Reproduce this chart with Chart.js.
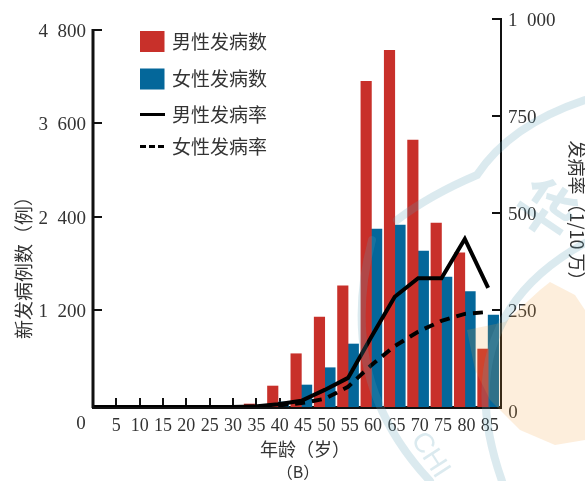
<!DOCTYPE html>
<html>
<head>
<meta charset="utf-8">
<script src="https://cdn.jsdelivr.net/npm/chart.js@4"></script>
<style>
  html, body { margin: 0; padding: 0; background: #fff; }
  canvas { display: block; }
</style>
</head>
<body>
<canvas id="incidenceChart" width="585" height="481"></canvas>
<script>
const ages = [0, 5, 10, 15, 20, 25, 30, 35, 40, 45, 50, 55, 60, 65, 70, 75, 80, 85];
const maleCases = [0, 0, 2, 6, 4, 5, 8, 38, 267, 678, 1146, 1544, 4146, 4541, 3399, 2342, 1964, 738];
const femaleCases = [0, 0, 1, 2, 3, 4, 5, 10, 64, 280, 500, 802, 2266, 2317, 1986, 1655, 1468, 1171];
const maleRate = [0, 0, 0, 0, 0, 0, 0, 1, 7, 16, 44, 75, 181, 284, 332, 332, 433, 307];
const femaleRate = [0, 0, 0, 0, 0, 0, 0, 1, 4, 10, 21, 52, 108, 157, 194, 222, 240, 245];

const ageTicks = [5, 10, 15, 20, 25, 30, 35, 40, 45, 50, 55, 60, 65, 70, 75, 80, 85];
const caseTicks = [1200, 2400, 3600, 4800];
const rateTicks = [250, 500, 750, 1000];

const numFont = '"Liberation Serif"';
const cjkFont = '"Noto Sans CJK SC"';
const textColor = '#333';

function spaced(v) {
  // thousands are set apart with a wide gap in the source figure
  return v >= 1000 ? Math.floor(v / 1000) + '  ' + String(v % 1000).padStart(3, '0') : String(v);
}

function toPoints(values) {
  return values.map((v, i) => ({ x: ages[i], y: v }));
}

function noEdgePadding(s) {
  s.paddingTop = 0;
  s.paddingBottom = 0;
}

function put(ctx, text, x, y, font, rotation) {
  ctx.save();
  ctx.translate(x, y);
  ctx.rotate(rotation || 0);
  ctx.font = font;
  ctx.fillStyle = textColor;
  ctx.textAlign = 'center';
  ctx.textBaseline = 'middle';
  ctx.fillText(text, 0, 0);
  ctx.restore();
}

const annotations = {
  id: 'annotations',
  afterDatasetsDraw(chart) {
    const ctx = chart.ctx;
    const axis = chart.scales.yCases;

    // left axis stops at its top tick, the right one runs the full height
    ctx.save();
    ctx.strokeStyle = '#111';
    ctx.lineWidth = 3;
    ctx.beginPath();
    ctx.moveTo(93, axis.getPixelForValue(4800) - 1);
    ctx.lineTo(93, 408);
    ctx.stroke();
    ctx.restore();

    put(ctx, '0', 81, 424, '19px ' + numFont);
    put(ctx, '0', 513, 413, '19px ' + numFont);
    put(ctx, '年龄（岁）', 305, 449, '18px ' + cjkFont);
    put(ctx, '（B）', 298, 472, '16px ' + cjkFont);
    put(ctx, '新发病例数（例）', 24, 263, '19px ' + cjkFont, -Math.PI / 2);
    put(ctx, '发病率（1/10 万）', 577, 215, '18px ' + cjkFont, Math.PI / 2);

    // legend, rows are unevenly spaced in the source
    const rows = [41.5, 79, 114.5, 146.5];
    chart.data.datasets.forEach((ds, i) => {
      const y = rows[i];
      ctx.save();
      if (ds.type === 'bar') {
        ctx.fillStyle = ds.backgroundColor;
        ctx.fillRect(140, y - 10.5, 24.5, 21);
      } else {
        ctx.strokeStyle = ds.borderColor;
        ctx.lineWidth = 3;
        ctx.setLineDash(ds.borderDash ? [6, 3] : []);
        ctx.beginPath();
        ctx.moveTo(140, y);
        ctx.lineTo(165, y);
        ctx.stroke();
      }
      ctx.restore();
      put(ctx, ds.label, 219.5, y, '19px ' + cjkFont);
    });
  },
  afterDraw(chart) {
    // pale stamp showing through the scan
    const ctx = chart.ctx;
    ctx.save();
    ctx.fillStyle = 'rgba(245,160,60,0.18)';
    ctx.beginPath();
    ctx.moveTo(467, 330);
    ctx.lineTo(505, 322);
    ctx.lineTo(540, 290);
    ctx.lineTo(550, 282);
    ctx.lineTo(575, 295);
    ctx.lineTo(585, 310);
    ctx.lineTo(585, 440);
    ctx.lineTo(555, 445);
    ctx.lineTo(520, 430);
    ctx.lineTo(490, 400);
    ctx.lineTo(475, 370);
    ctx.closePath();
    ctx.fill();

    ctx.strokeStyle = 'rgba(90,160,180,0.22)';
    ctx.lineWidth = 8;
    ctx.lineCap = 'round';
    ctx.beginPath();
    ctx.moveTo(397, 220);
    ctx.quadraticCurveTo(430, 195, 477, 175);
    ctx.quadraticCurveTo(510, 125, 585, 100);
    ctx.moveTo(372, 240);
    ctx.quadraticCurveTo(335, 380, 430, 481);
    ctx.moveTo(585, 243);
    ctx.quadraticCurveTo(445, 320, 502, 481);
    ctx.stroke();

    ctx.fillStyle = 'rgba(90,160,180,0.22)';
    ctx.font = 'bold 58px ' + cjkFont;
    ctx.textAlign = 'center';
    ctx.textBaseline = 'middle';
    ctx.translate(547, 208);
    ctx.rotate(0.6);
    ctx.fillText('华', 0, 0);
    ctx.rotate(-0.6);
    ctx.translate(-117, 247);
    ctx.rotate(1.0);
    ctx.font = '28px "Liberation Sans"';
    ctx.fillText('CHI', 0, 0);
    ctx.restore();
  }
};

new Chart(document.getElementById('incidenceChart'), {
  data: {
    datasets: [
      { type: 'bar', label: '男性发病数', data: toPoints(maleCases), xAxisID: 'x', yAxisID: 'y',
        backgroundColor: '#c8302a', barThickness: 10.5, order: 2 },
      { type: 'bar', label: '女性发病数', data: toPoints(femaleCases), xAxisID: 'x', yAxisID: 'y',
        backgroundColor: '#04679a', barThickness: 10.5, order: 3 },
      { type: 'line', label: '男性发病率', data: toPoints(maleRate), xAxisID: 'x', yAxisID: 'yRate',
        borderColor: '#000', borderWidth: 4, pointRadius: 0, tension: 0, order: 1 },
      { type: 'line', label: '女性发病率', data: toPoints(femaleRate), xAxisID: 'x', yAxisID: 'yRate',
        borderColor: '#000', borderWidth: 4, borderDash: [10, 7], pointRadius: 0, tension: 0, order: 0 }
    ]
  },
  options: {
    responsive: false,
    animation: false,
    layout: { padding: { top: 19 } },
    plugins: { legend: { display: false }, tooltip: { enabled: false } },
    scales: {
      // marks sit on these two, the drawn axes are slightly offset from them in the source
      x: { type: 'linear', display: false, offset: false, min: 0.385, max: 87.75 },
      y: { display: false, min: 0, max: 4940 },
      xAges: {
        type: 'linear', position: 'bottom', min: 0, max: 87.4,
        afterBuildTicks: s => { s.ticks = ageTicks.map(v => ({ value: v })); },
        afterFit: s => { s.height = 74; s.paddingLeft = 0; s.paddingRight = 0; },
        border: { color: '#111', width: 3 },
        grid: { drawOnChartArea: false, color: '#111', lineWidth: 2, tickLength: -9 },
        ticks: { autoSkip: false, maxRotation: 0, padding: 17, color: textColor, font: { family: numFont, size: 18 } }
      },
      yCases: {
        position: 'left', min: -46, max: 4800 + 140,
        afterBuildTicks: s => { s.ticks = caseTicks.map(v => ({ value: v })); },
        afterFit: s => { s.width = 93; noEdgePadding(s); },
        border: { display: false },
        grid: { drawOnChartArea: false, color: '#111', lineWidth: 2, tickLength: -9 },
        ticks: { padding: 16, labelOffset: 2, color: textColor, callback: spaced, font: { family: numFont, size: 19 } }
      },
      yRate: {
        position: 'right', min: 0, max: 1000,
        afterBuildTicks: s => { s.ticks = rateTicks.map(v => ({ value: v })); },
        afterFit: s => { s.width = 84; noEdgePadding(s); },
        border: { color: '#111', width: 2 },
        grid: { drawOnChartArea: false, color: '#111', lineWidth: 2, tickLength: -9 },
        ticks: { padding: 16, labelOffset: 2, color: textColor, callback: spaced, font: { family: numFont, size: 19 } }
      }
    }
  },
  plugins: [annotations]
});
</script>
</body>
</html>
